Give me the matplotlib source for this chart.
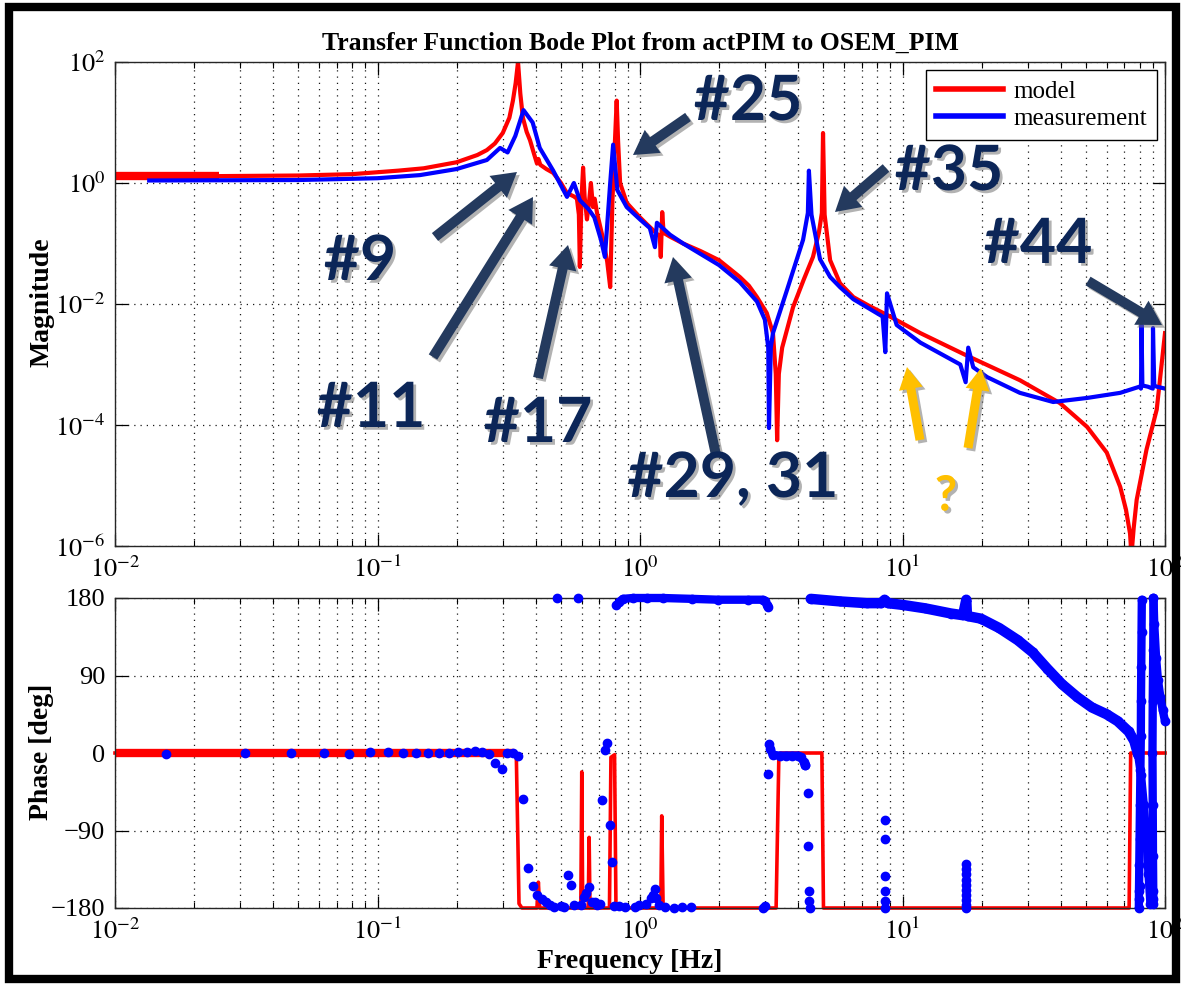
import matplotlib
matplotlib.use('Agg')
import matplotlib.pyplot as plt
import matplotlib.patheffects as pe
from matplotlib.patches import FancyArrow, Rectangle
from matplotlib.lines import Line2D
from matplotlib.ticker import FixedLocator, NullLocator, LogLocator, NullFormatter

# ---------------- data ----------------
model_mag_f = [0.010, 0.025, 0.05, 0.08, 0.12, 0.15, 0.20, 0.24, 0.261, 0.28,
               0.30, 0.318, 0.328, 0.336, 0.343, 0.35, 0.358, 0.37, 0.381, 0.395,
               0.405, 0.41, 0.417, 0.44, 0.467, 0.50, 0.527, 0.56, 0.575, 0.585,
               0.59, 0.598, 0.607, 0.615, 0.628, 0.64, 0.65, 0.662, 0.672, 0.686,
               0.72, 0.75, 0.77, 0.785, 0.80, 0.815, 0.825, 0.84, 0.89, 1.00,
               1.06, 1.15, 1.19, 1.20, 1.215, 1.23, 1.30, 1.46, 1.70, 2.00,
               2.20, 2.40, 2.60, 2.79, 3.04, 3.21, 3.29, 3.33, 3.38, 3.48,
               3.83, 4.20, 4.56, 4.80, 4.93, 4.98, 5.05, 5.30, 5.78, 6.5,
               7.5, 8.73, 11.7, 17.6, 28, 39.8, 50.5, 60, 67.5, 71,
               73.6, 74.5, 76, 78, 85, 93, 100]
model_mag = [1.30, 1.30, 1.33, 1.40, 1.60, 1.75, 2.2, 2.9, 3.5, 4.5,
             6.7, 12, 23, 45, 100, 30, 12, 7, 5.1, 3.0,
             2.1, 2.5, 2.0, 1.7, 1.47, 1.0, 0.68, 0.6, 0.55, 0.3,
             0.041, 0.5, 1.8, 0.6, 0.25, 0.5, 1.0, 0.4, 0.55, 0.32,
             0.13, 0.05, 0.019, 0.5, 3.5, 23, 5, 1.0, 0.47, 0.27,
             0.21, 0.15, 0.13, 0.06, 0.33, 0.15, 0.13, 0.10, 0.075, 0.053,
             0.038, 0.028, 0.02, 0.013, 0.0071, 0.0033, 0.0007, 5.6e-5, 0.0007, 0.0019,
             0.0089, 0.025, 0.06, 0.15, 0.32, 6.7, 0.3, 0.053, 0.022, 0.013,
             0.0092, 0.0066, 0.0033, 0.0014, 0.00055, 0.00023, 9.3e-5, 3.5e-5, 9.5e-6, 4e-6,
             1.6e-6, 7e-7, 2e-6, 5.8e-6, 3.9e-5, 1.8e-4, 0.0033]

meas_mag_f = [0.0135, 0.05, 0.10, 0.145, 0.20, 0.261, 0.293, 0.313, 0.335, 0.36,
              0.39, 0.415, 0.467, 0.527, 0.56, 0.59, 0.64, 0.67, 0.71, 0.735,
              0.77, 0.79, 0.82, 0.89, 1.00, 1.09, 1.14, 1.16, 1.30, 1.46,
              2.00, 2.40, 2.79, 2.99, 3.08, 3.10, 3.15, 3.21, 3.63, 4.18,
              4.36, 4.40, 4.50, 4.85, 5.30, 5.78, 6.5, 8.4, 8.6, 8.73,
              9.5, 11.7, 16.6, 17.4, 17.8, 18.6, 21, 28, 37.5, 50.5,
              67.5, 80, 81.0, 81.4, 82, 86, 89.8, 90, 91, 93,
              100]
meas_mag = [1.1, 1.12, 1.2, 1.35, 1.7, 2.4, 3.8, 3.2, 6, 16,
            10, 3.8, 1.6, 0.59, 1.0, 0.52, 0.36, 0.27, 0.115, 0.06,
            1.0, 4.3, 0.76, 0.4, 0.25, 0.18, 0.087, 0.22, 0.14, 0.10,
            0.044, 0.023, 0.011, 0.0055, 0.0019, 8.9e-5, 0.0019, 0.0033, 0.017, 0.115,
            0.32, 1.6, 0.3, 0.055, 0.028, 0.019, 0.012, 0.0062, 0.0016, 0.015,
            0.0045, 0.0023, 0.001, 0.00051, 0.0019, 0.0009, 0.00062, 0.00034, 0.00024, 0.00028,
            0.00034, 0.00043, 0.0004, 0.0045, 0.00045, 0.00043, 0.0004, 0.004, 0.00045, 0.00043,
            0.0004]

model_ph_f = [0.01, 0.330, 0.338, 0.342, 0.346, 0.355, 0.405, 0.41, 0.415, 0.595,
              0.60, 0.605, 0.635, 0.64, 0.645, 0.765, 0.775, 0.80, 0.81, 1.20,
              1.21, 1.225, 3.30, 3.38, 3.42, 4.93, 5.00, 73.0, 74.0, 100]
model_ph = [0, 0, -5, -90, -175, -180, -180, -150, -180, -180,
            -22, -180, -180, -98, -180, -180, -5, -2, -180, -180,
            -73, -180, -180, -5, 0, 0, -180, -180, 0, 0]

# measured phase: individual points
meas_ph_f = [0.0156, 0.0313, 0.0469, 0.0625, 0.0781, 0.0938, 0.1094, 0.125, 0.1406, 0.1563,
             0.1719, 0.1875, 0.2031, 0.2188, 0.2344, 0.25, 0.2656, 0.2813, 0.2969, 0.3125,
             0.3281, 0.3438, 0.3594, 0.375, 0.3906, 0.4063, 0.4219, 0.4375, 0.4531, 0.4688,
             0.4844, 0.5, 0.5156, 0.5313, 0.5469, 0.5625, 0.5781, 0.5938, 0.6094, 0.625,
             0.6406, 0.6563, 0.6719, 0.6875, 0.7031, 0.7188, 0.7344, 0.75, 0.7656, 0.7813,
             0.7969, 0.8125, 0.83, 0.88, 0.96, 0.99, 1.05, 1.10, 1.12, 1.14,
             1.15, 1.18, 1.25, 1.35, 1.45, 1.56, 2.95, 3.0, 3.07, 4.27,
             4.35, 4.35, 4.40, 4.42, 4.45, 8.6, 8.6, 8.6, 8.55, 8.6,
             8.6, 17.5, 17.5, 17.5, 17.5, 17.5, 17.5, 17.5, 17.5, 17.5,
             17.5, 79.5, 80.0, 90.4, 90.0]
meas_ph = [-1, 0, 0, 0, -1, 1, 1, 0, 0, 0,
           0, 0, 1, 1, 2, 1, -1, -12, -19, 0,
           0, -4, -53, -134, -155, -165, -169, -173, -177, -179,
           180, -178, -179, -142, -153, -176, 180, -177, -167, -162,
           -156, -173, -173, -176, -175, -55, 3, 12, -84, -126,
           -178, 172, -178, -179, -179, -177, -175, -168, -165, -158,
           -168, -177, -179, -180, -179, -179, -180, -178, -24, -14,
           -47, -108, -160, -172, -180, -78, -100, -143, -160, -172,
           -180, -129, -135, -141, -147, -153, -159, -165, -171, -177,
           -180, -170, -155, -170, -160]

# measured phase: densely sampled bands
band_upper_f = [0.83, 0.86, 0.94, 1.06, 1.22, 1.58, 1.99, 2.58, 2.93, 3.0, 3.05, 3.08]
band_upper_ph = [175, 179, 180, 180, 180, 179, 178, 178, 178, 176, 172, 170]
band_zero_f = [3.11, 3.14, 3.2, 3.4, 3.6, 3.8, 4.0, 4.1, 4.2, 4.27]
band_zero_ph = [10, 5, -2, -3, -3, -3, -3, -5, -10, -14]
band_roll_f = [4.47, 5.8, 7.3, 8.3, 8.55, 8.8, 10, 12.2, 15.3, 17.0, 17.5, 17.6, 17.7,
               19.9, 23.4, 27.5, 31.3, 35.6, 40.5, 46.3, 52.6, 59.9, 66, 72.7, 76.4, 79]
band_roll_ph = [179, 176, 174, 174, 178, 174, 172, 168, 162, 160, 178, 160, 159,
                156, 145, 131, 117, 98, 80, 65, 53, 45, 37, 25, 14, -2]
streak_a_f = [79.5, 79.6, 79.8, 80.0, 80.3, 80.6, 80.9, 81.0, 81.2, 81.4, 81.6]
streak_a_ph = [-180, -160, -130, -100, -60, -20, 20, 60, 100, 140, 178]
streak_b_f = [90.4, 90.2, 89.8, 89.6, 89.8, 90.0, 90.3]
streak_b_ph = [180, 120, 60, 0, -60, -120, -175]
branch_f = [90.4, 91.0, 92.5, 94.0, 96.0, 98.0, 100.0]
branch_ph = [180, 150, 110, 85, 65, 50, 37]
diag_f = [79.0, 81.0, 83.0, 85.0, 86.5, 88.0]
diag_ph = [-2, -25, -60, -100, -140, -175]

x_ticks = [1e-2, 1e-1, 1e0, 1e1, 1e2]
x_ticklabels = [r'$10^{-2}$', r'$10^{-1}$', r'$10^{0}$', r'$10^{1}$', r'$10^{2}$']
mag_ticks = [1e-6, 1e-4, 1e-2, 1e0, 1e2]
mag_ticklabels = [r'$10^{-6}$', r'$10^{-4}$', r'$10^{-2}$', r'$10^{0}$', r'$10^{2}$']
ph_ticks = [-180, -90, 0, 90, 180]
ph_ticklabels = ['\u2212180', '\u221290', '0', '90', '180']

# ---------------- figure ----------------
plt.rcParams['font.family'] = ['Liberation Serif', 'DejaVu Serif']
plt.rcParams['mathtext.fontset'] = 'stix'

W, H = 1181, 984
fig = plt.figure(figsize=(W / 100, H / 100), dpi=100)
fig.patch.set_facecolor('white')

L, R = 115, 1165
ax1 = fig.add_axes([L / W, 1 - 546 / H, (R - L) / W, (546 - 62) / H])
ax2 = fig.add_axes([L / W, 1 - 908 / H, (R - L) / W, (908 - 598) / H])

RED = '#ff0000'
BLUE = '#0000ff'
GRID = dict(color='0.1', linestyle=(0, (1, 4)), linewidth=0.9)

for ax in (ax1, ax2):
    ax.set_xscale('log')
    ax.set_xlim(1e-2, 1e2)
    ax.set_xticks(x_ticks)
    ax.set_xticklabels(x_ticklabels)
    ax.xaxis.set_minor_locator(LogLocator(base=10, subs=[2, 3, 4, 5, 6, 7, 8, 9]))
    ax.xaxis.set_minor_formatter(NullFormatter())
    ax.tick_params(which='both', direction='in', top=True, right=True, labelsize=19, pad=7)
    ax.tick_params(which='major', length=9, width=0.9)
    ax.tick_params(which='minor', length=4, width=0.8)
    ax.grid(True, which='major', **GRID)
    ax.grid(True, which='minor', axis='x', **GRID)
    ax.set_axisbelow(True)
    for s in ax.spines.values():
        s.set_linewidth(1.0)
        s.set_color('0.15')

# magnitude
ax1.set_yscale('log')
ax1.set_ylim(1e-6, 1e2)
ax1.yaxis.set_major_locator(FixedLocator(mag_ticks))
ax1.set_yticklabels(mag_ticklabels)
ax1.yaxis.set_minor_locator(NullLocator())
ax1.plot(model_mag_f[:2], model_mag[:2], color=RED, lw=6, solid_capstyle='butt')
ax1.plot(model_mag_f, model_mag, color=RED, lw=3.0, label='model')
ax1.plot(meas_mag_f, meas_mag, color=BLUE, lw=3.0, label='measurement')
ax1.set_title('Transfer Function Bode Plot from actPIM to OSEM_PIM',
              fontsize=18.5, fontweight='bold', pad=9)

leg_handles = [Line2D([], [], color=RED, lw=4), Line2D([], [], color=BLUE, lw=4)]
leg = ax1.legend(leg_handles, ['model', 'measurement'], loc='upper right',
                 bbox_to_anchor=(1 - 8 / (R - L), 1 - 8 / 484), borderaxespad=0,
                 fontsize=18, handlelength=2.7, handletextpad=0.4, labelspacing=0.2,
                 borderpad=0.4, fancybox=False, framealpha=1, edgecolor='k')
leg.get_frame().set_linewidth(1.0)

# phase
ax2.set_ylim(-180, 180)
ax2.set_yticks(ph_ticks)
ax2.set_yticklabels(ph_ticklabels)
ax2.plot(model_ph_f[:2], model_ph[:2], color=RED, lw=6, solid_capstyle='butt', clip_on=False)
ax2.plot(model_ph_f, model_ph, color=RED, lw=2.6, clip_on=False, zorder=2)
for bf, bp, lw in [(band_upper_f, band_upper_ph, 6), (band_zero_f, band_zero_ph, 6),
                   (band_roll_f, band_roll_ph, 7.5), (streak_a_f, streak_a_ph, 6),
                   (streak_b_f, streak_b_ph, 6), (branch_f, branch_ph, 6),
                   (diag_f, diag_ph, 6)]:
    ax2.plot(bf, bp, color=BLUE, lw=lw, solid_capstyle='round', clip_on=False, zorder=3)
    ax2.plot(bf, bp, 'o', color=BLUE, ms=6, clip_on=False, zorder=3)
ax2.plot(meas_ph_f, meas_ph, 'o', color=BLUE, ms=6, ls='none', clip_on=False, zorder=3)

# axis labels
fig.text(42 / W, 1 - 302 / H, 'Magnitude', rotation=90, fontsize=20, fontweight='bold',
         ha='center', va='center')
fig.text(42 / W, 1 - 752 / H, 'Phase [deg]', rotation=90, fontsize=20, fontweight='bold',
         ha='center', va='center')
fig.text(630 / W, 1 - 961 / H, 'Frequency [Hz]', fontsize=20, fontweight='bold',
         ha='center', va='center')

# ---------------- annotations ----------------
NAVY = '#0c2658'
ARROW = '#243a5e'
GOLD = '#ffc000'
shadow = [pe.withSimplePatchShadow(offset=(2, -2), shadow_rgbFace='0.45', alpha=0.55)]


def arrow(x0, y0, x1, y1, color, w=10, hw=28, hl=24):
    a = FancyArrow(x0 / 100, (H - y0) / 100, (x1 - x0) / 100, -(y1 - y0) / 100,
                   width=w / 100, head_width=hw / 100, head_length=hl / 100,
                   length_includes_head=True, transform=fig.dpi_scale_trans,
                   facecolor=color, edgecolor='none', zorder=10)
    a.set_path_effects(shadow)
    fig.add_artist(a)


def label(x, y, s, color=NAVY, size=45):
    fig.text(x / W, 1 - y / H, s, fontsize=size, fontweight='bold', color=color,
             family=['Lato', 'DejaVu Sans'], ha='center', va='center', zorder=11,
             path_effects=shadow)


label(360, 262, '#9')
label(371, 409, '#11')
label(538, 424, '#17')
label(748, 102, '#25')
label(733, 479, '#29, 31')
label(949, 172, '#35')
label(1038, 245, '#44')
label(946, 496, '?', color=GOLD, size=35)

arrow(435, 237, 517, 172, ARROW)
arrow(433, 357, 533, 197, ARROW)
arrow(538, 378, 568, 245, ARROW)
arrow(688, 117, 633, 155, ARROW)
arrow(716, 455, 673, 257, ARROW)
arrow(886, 168, 835, 212, ARROW)
arrow(1088, 281, 1162, 325, ARROW)
arrow(920, 440, 907, 367, GOLD, w=9, hw=24, hl=22)
arrow(968, 448, 981, 368, GOLD, w=9, hw=24, hl=22)

# outer frame
fig.add_artist(Rectangle((9 / 100, 5 / 100), (W - 14) / 100, (H - 12) / 100, fill=False,
                         edgecolor='black', linewidth=6, transform=fig.dpi_scale_trans,
                         zorder=20))

fig.savefig('out.png', dpi=100)
